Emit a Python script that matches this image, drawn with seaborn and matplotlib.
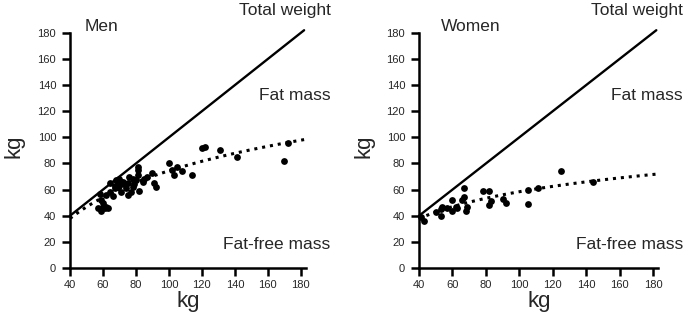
import matplotlib
matplotlib.use("Agg")
import matplotlib.pyplot as plt
import seaborn as sns
import numpy as np
import pandas as pd

# ---- data ----
men_x = [172, 170, 141, 131, 120, 122, 114, 108, 105, 103, 102, 100,
         92, 91, 90, 87, 84, 82, 81, 81, 81, 80, 78, 78, 76, 75, 75, 74, 72, 71,
         70, 70, 69, 68, 67, 67, 66, 64, 64, 62, 58, 59, 60, 62, 57, 59, 61, 63,
         60, 73, 77, 79, 85, 71, 69]
men_y = [96, 82, 85, 90, 92, 93, 71, 74, 77, 71, 75, 80,
         62, 65, 73, 70, 66, 59, 77, 75, 71, 67, 62, 68, 70, 65, 56, 61, 66, 58,
         63, 68, 62, 67, 63, 61, 55, 65, 58, 56, 57, 52, 47, 47, 46, 44, 46, 46,
         50, 64, 58, 64, 68, 66, 65]

women_x = [43, 41, 50, 53, 54, 53, 57, 60, 60, 62, 63, 66, 67, 67, 68, 69,
           78, 82, 82, 83, 90, 92, 105, 105, 111, 125, 144]
women_y = [36, 39, 43, 40, 47, 45, 46, 52, 44, 47, 46, 52, 54, 61, 44, 47,
           59, 59, 48, 51, 53, 50, 60, 49, 61, 74, 66]

total_weight = [40, 182]          # identity line: total weight = x
x_ticks = [40, 60, 80, 100, 120, 140, 160, 180]
y_ticks = [0, 20, 40, 60, 80, 100, 120, 140, 160, 180]

sns.set_style("ticks")
plt.rcParams["font.family"] = ["Liberation Sans", "DejaVu Sans"]

fig = plt.figure(figsize=(6.85, 3.2), dpi=100)
ax_l = fig.add_axes([66.7 / 685, 52 / 320, 244 / 685, 243 / 320])
ax_r = fig.add_axes([415.7 / 685, 52 / 320, 247.3 / 685, 243 / 320])

panels = [(ax_l, men_x, men_y, "Men", 49), (ax_r, women_x, women_y, "Women", 53)]

for ax, xs, ys, title, tx in panels:
    df = pd.DataFrame({"x": xs, "y": ys})
    ax.set_xlim(40, 182)
    ax.set_ylim(0, 186)
    # total weight line
    sns.lineplot(x=total_weight, y=total_weight, ax=ax, color="black",
                 linewidth=1.7, clip_on=False)
    # scatter + logarithmic regression (dotted)
    sns.regplot(data=df, x="x", y="y", ax=ax, logx=True, ci=None,
                truncate=False,
                scatter_kws=dict(s=24, color="black", linewidths=0, alpha=1),
                line_kws=dict(color="black", linewidth=2.2,
                              linestyle=(0, (1, 1.6))))
    ax.set_xlim(38, 186)
    ax.set_ylim(0, 186)
    ax.set_xticks(x_ticks)
    ax.set_yticks(y_ticks)
    ax.tick_params(axis="both", direction="out", length=6, width=1.8,
                   labelsize=8, color="black")
    ax.tick_params(axis="y", pad=4)
    ax.tick_params(axis="x", pad=3)
    for s in ["top", "right"]:
        ax.spines[s].set_visible(False)
    for s in ["left", "bottom"]:
        ax.spines[s].set_linewidth(1.8)
        ax.spines[s].set_color("black")
    ax.spines["left"].set_bounds(0, 180)
    ax.spines["bottom"].set_bounds(40, 183)
    ax.spines["left"].set_position(("data", 40))
    ax.set_xlabel("kg", fontsize=16, labelpad=0)
    ax.set_ylabel("kg", fontsize=16, labelpad=9)
    ax.text(tx, 184.5, title, fontsize=12.5, ha="left", va="center",
            clip_on=False)
    ax.text(198, 197, "Total weight", fontsize=12.5, ha="right",
            va="center", clip_on=False)
    ax.text(198, 132, "Fat mass", fontsize=12.5, ha="right", va="center",
            clip_on=False)
    ax.text(198, 18, "Fat-free mass", fontsize=12.5, ha="right",
            va="center", clip_on=False)

fig.savefig("out.png", dpi=100)
